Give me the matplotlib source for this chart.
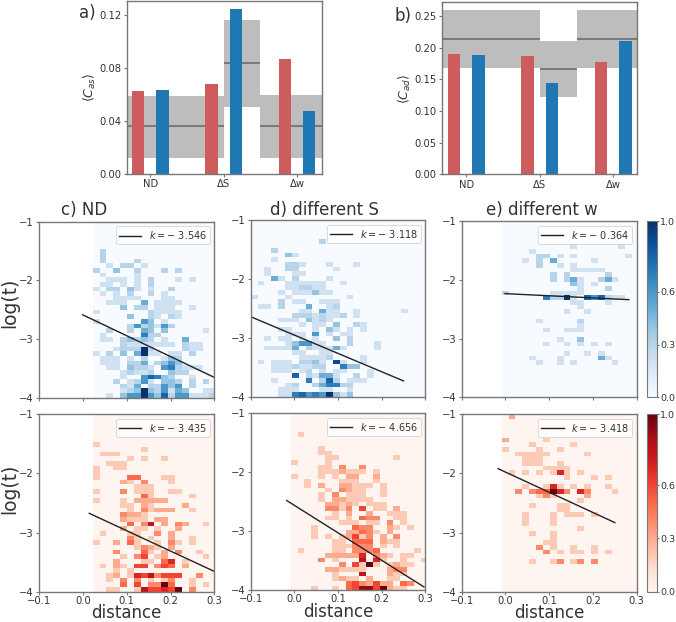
import numpy as np
import matplotlib
matplotlib.use("Agg")
import matplotlib.pyplot as plt

W, H = 676, 622
TXT = "#333333"
EDGE = "#777777"

groups = ["ND", "ΔS", "Δw"]

# panel a
as_red = [0.0627, 0.068, 0.0867]
as_blue = [0.0632, 0.1246, 0.0475]
as_low = [0.0121, 0.0503, 0.0116]
as_high = [0.0591, 0.1165, 0.0596]
as_mean = [0.0359, 0.0836, 0.0359]

# panel b
ad_red = [0.1904, 0.1872, 0.1783]
ad_blue = [0.1888, 0.145, 0.2115]
ad_low = [0.1688, 0.1229, 0.1688]
ad_high = [0.26, 0.2104, 0.26]
ad_mean = [0.2141, 0.1667, 0.2141]

# heatmap levels, top row of each grid is log(t) = -1, digit = tenths of the colour scale
nd_blue = [
    "", "", "", "", "", "", "02", "02", "0200002", "00102201",
    "2003002000202", "0100001", "001110102000101", "011010102", "102203101002",
    "01010200201", "000111100011", "0011100401111", "000030220111001", "1000000021111",
    "0000030021021", "10000005301", "000002523152", "00200204303000001", "0100000622",
    "01102323201004", "0000211111110211", "0001222920000211", "102030491101102", "0111010200132",
    "0111022402353", "0011032210562111", "00001211200322", "000010057632001", "00020125103320202",
    "000021402253502", "000012393251430011", "001035595372551112",
]
s_blue = [
    "", "", "", "", "00000000002", "", "0002", "0000031", "0001", "0000022100010001",
    "0010022000001", "00100011", "000410200001", "01000111111001", "00000112211",
    "000010111311", "100001000000001", "0000201100111", "0110200040012", "00000001104110010000001",
    "0000002221211201", "000011103121", "00000001011030021", "00001100010310101", "000001110501011",
    "001011010100302", "0000013551100020001", "0011114021114100001", "000000110011", "00000001111200001",
    "01011102231081001", "0001112112200633", "000111012010110001", "000000702144100201", "00010000602720111",
    "000001200246622", "000011100011001", "000011675659313",
]
w_blue = [
    "", "", "", "", "", "000000000010000001", "00001", "0000022010100000001", "00010204000001", "00000200101",
    "000000000011111", "0000000202000002", "00000002024100241", "00000000003101", "0000000000010002",
    "200000011111", "000000622910757211", "0000000000110001", "000000000001", "0000000001001",
    "", "000001000002", "000000000001", "000000100111", "",
    "000000001003", "0000001001010101", "", "000000000100101", "0000100010000041",
    "00000100101000001", "", "", "", "", "", "", "",
]
nd_red = [
    "", "", "", "", "", "", "1", "00000001", "0111", "00000101001",
    "00111", "10011", "1", "100004400011", "000021030001",
    "000000111", "1000301110011", "000000041000001", "10001022222", "00001102100002",
    "000001031222001", "00003221", "00002111022", "00000403702032001", "0000201101002",
    "010001100302", "000003101002001", "100204100103101", "000000132102", "0003000410203001",
    "00001035012000001", "00020001104601", "01021055035402", "000101", "0012016573555003",
    "001030301013001", "00004050339400101", "001100175565903",
]
s_red = [
    "", "", "", "", "01", "", "", "00001", "000011", "0000011000000001",
    "100001", "00001103003", "0000111211101", "1000101022002", "0010000111001",
    "00102002211101", "00000103211001", "00001030111001", "000010221111", "00000221210111",
    "0000033130501102", "00000010200200111", "00000110104330011", "00000001110110301", "000100000433002101",
    "000100002243102", "0001010125130203", "0000001104440211", "0000001113330101", "0100001103334000001",
    "000002222260321011", "00003010007061001001", "000000030519101211", "00000221111000233", "00000010007000211",
    "0000001211020011", "000000004532522043", "00010010458859211",
]
w_red = [
    "02", "", "", "", "", "2000001", "00001000001", "100001001", "0011111000001", "000111",
    "000111001", "0000001111", "010101016101", "0000000001000101", "",
    "0001001610101001", "00303449630630001", "0000013100002", "000000000001", "0000100011",
    "0000000011", "00010001011101", "00010001", "00010001", "000000000001",
    "00001001", "00000001", "00000011", "00000301001001", "0000003010110101",
    "", "00001001301303", "", "", "", "", "", "",
]

# fit lines
slopes = [-3.546, -3.118, -0.364, -3.435, -4.656, -3.418]
intercepts = [-2.59, -2.952, -2.233, -2.626, -2.56, -1.977]
line_x0 = [-0.001, -0.1, -0.001, 0.0143, -0.0176, -0.017]
line_x1 = [0.3, 0.25, 0.282, 0.3, 0.297, 0.25]

# left edge of each heatmap in distance units
grid_x0 = [0.0219, -0.1, -0.0086, 0.0219, -0.0084, -0.0086]
grid_cols = [18, 26, 20, 18, 20, 20]
CELL = 0.0157

titles = ["c) ND", "d) different S", "e) different w"]
title_x = [84, 324, 542]


def px_axes(left, right, top, bottom):
    return fig.add_axes([left / W, 1 - bottom / H, (right - left) / W, (bottom - top) / H])


def style(ax, size=7.2):
    for s in ax.spines.values():
        s.set_color(EDGE)
        s.set_linewidth(1.0)
    ax.tick_params(labelsize=size, colors=TXT, color=EDGE, length=2.2, width=0.8, pad=1.8)


def bar_panel(ax, red, blue, low, high, mean, xlim, ylim, ticks, ticklabels, ylabel):
    edges = [(xlim[0], 1.0), (1.0, 1.5), (1.5, xlim[1])]
    for (a, b), lo, hi, m in zip(edges, low, high, mean):
        ax.fill_between([a, b], lo, hi, color="#bdbdbd", lw=0, zorder=1)
        ax.plot([a, b], [m, m], color="#666666", lw=1.1, zorder=1.5, solid_capstyle="butt")
    x = np.arange(3)
    ax.bar(x - 0.166, red, 0.168, color="indianred", zorder=2)
    ax.bar(x + 0.166, blue, 0.168, color="tab:blue", zorder=2)
    ax.set_xlim(xlim)
    ax.set_ylim(ylim)
    ax.set_xticks(x)
    ax.set_xticklabels(groups)
    ax.set_yticks(ticks)
    ax.set_yticklabels(ticklabels)
    ax.set_ylabel(ylabel, fontsize=9, color=TXT, labelpad=1)
    style(ax)


def heat_panel(ax, rows, cols, x0, cmap, k, b, xa, xb, show_x):
    grid = np.array([[int(c) for c in r.ljust(cols, "0")] for r in rows], dtype=float)
    grid = np.where(grid > 0, (grid + 1) / 10, 0)
    grid = np.minimum(grid, 1.0)
    xe = x0 + CELL * np.arange(cols + 1)
    ye = np.linspace(-1, -4, len(rows) + 1)
    m = ax.pcolormesh(xe, ye, grid, cmap=cmap, vmin=0, vmax=1, lw=0)
    ax.plot([xa, xb], [k * xa + b, k * xb + b], color="#222222", lw=1.0,
            label=r"$k=-$ %.3f" % abs(k))
    ax.set_xlim(-0.1, 0.3)
    ax.set_ylim(-4, -1)
    ax.set_xticks([-0.1, 0.0, 0.1, 0.2, 0.3])
    ax.set_yticks([-4, -3, -2, -1])
    if not show_x:
        ax.set_xticklabels([])
    else:
        ax.set_xlabel("distance", fontsize=12, color=TXT, labelpad=-1)
    leg = ax.legend(loc="upper right", fontsize=7, borderaxespad=0.45, labelcolor=TXT,
                    borderpad=0.3, handlelength=2.3)
    leg.get_frame().set_linewidth(0.6)
    style(ax)
    ax.tick_params(axis="x", pad=0.8)
    return m


fig = plt.figure(figsize=(W / 100, H / 100), dpi=100)

ax_a = px_axes(126.7, 321.7, 1.3, 173.7)
bar_panel(ax_a, as_red, as_blue, as_low, as_high, as_mean, (-0.323, 2.336), (0, 0.1306),
          [0, 0.04, 0.08, 0.12], ["0.00", "0.04", "0.08", "0.12"], r"$\langle C_{as}\rangle$")
ax_b = px_axes(442.3, 637.3, 2.3, 174.3)
bar_panel(ax_b, ad_red, ad_blue, ad_low, ad_high, ad_mean, (-0.327, 2.327), (0, 0.272),
          [0, 0.05, 0.10, 0.15, 0.20, 0.25], ["0.00", "0.05", "0.10", "0.15", "0.20", "0.25"],
          r"$\langle C_{ad}\rangle$")
fig.text(79 / W, 1 - 18 / H, "a)", fontsize=12, color=TXT)
fig.text(394 / W, 1 - 21 / H, "b)", fontsize=12, color=TXT)

boxes = [
    (39.3, 214.3, 221.7, 397.7), (250.7, 425.3, 220.3, 396.7), (461.7, 636.7, 221.3, 397.3),
    (39.3, 214.3, 414.3, 591.7), (250.7, 425.3, 413.3, 590.3), (461.7, 636.7, 414.3, 591.7),
]
grids = [nd_blue, s_blue, w_blue, nd_red, s_red, w_red]
for i, (box, rows) in enumerate(zip(boxes, grids)):
    ax = px_axes(*box)
    cmap = "Blues" if i < 3 else "Reds"
    m = heat_panel(ax, rows, grid_cols[i], grid_x0[i], cmap, slopes[i], intercepts[i],
                   line_x0[i], line_x1[i], i >= 3)
    if i % 3 == 2:
        cax = px_axes(646.7, 656.7, box[2], box[3])
        cb = fig.colorbar(m, cax=cax)
        cb.set_ticks([0.0, 0.3, 0.6, 1.0])
        cb.outline.set_edgecolor(EDGE)
        cb.ax.tick_params(labelsize=6.8, colors=TXT, color=EDGE, length=1.5, width=0.8, pad=1)

for t, xp in zip(titles, title_x):
    fig.text(xp / W, 1 - 215 / H, t, fontsize=12, color=TXT, ha="center")
fig.text(9.5 / W, 1 - 303 / H, "log(t)", fontsize=13.5, color=TXT, rotation=90, ha="center", va="center")
fig.text(9.5 / W, 1 - 489 / H, "log(t)", fontsize=13.5, color=TXT, rotation=90, ha="center", va="center")

fig.savefig("out.png", dpi=100)
